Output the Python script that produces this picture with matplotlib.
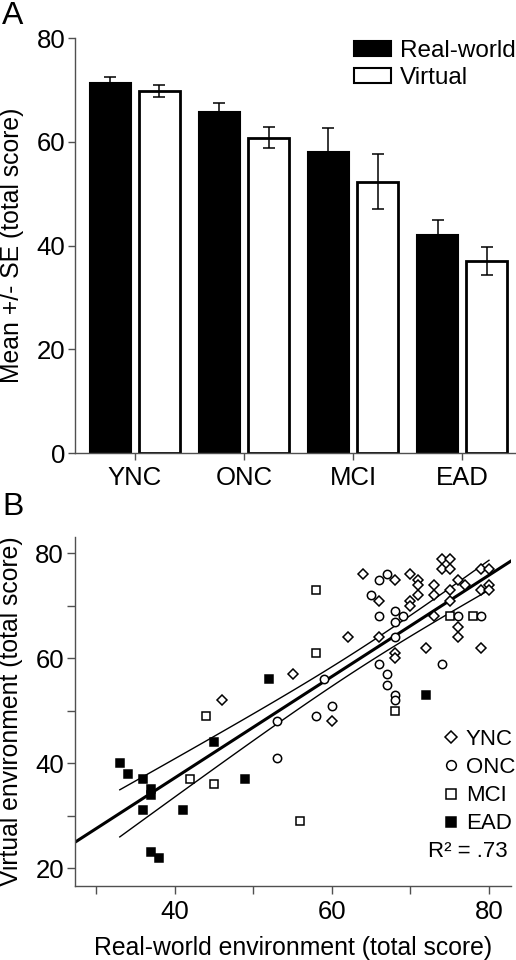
import numpy as np
import matplotlib
matplotlib.use("Agg")
import matplotlib.pyplot as plt
from matplotlib.lines import Line2D
from matplotlib.patches import Patch
from matplotlib.ticker import MultipleLocator

plt.rcParams['font.family'] = ['Liberation Sans', 'DejaVu Sans']

# ---- Panel A data ----
groups = ["YNC", "ONC", "MCI", "EAD"]
real_mean = [71.3, 65.8, 58.1, 42.0]
real_se = [1.2, 1.6, 4.6, 3.0]
virt_mean = [69.8, 60.8, 52.3, 37.0]
virt_se = [1.2, 2.1, 5.3, 2.7]

# ---- Panel B data (real-world x, virtual y) ----
ync_x = [64, 66, 68, 70, 71, 71, 71, 70, 70, 73, 73, 74, 75, 74, 75, 76, 77, 75, 75,
         73, 76, 76, 72, 79, 79, 80, 79, 80, 80, 66, 68, 68, 62, 55, 46, 60]
ync_y = [76, 71, 75, 76, 75, 74, 72, 71, 70, 74, 72, 79, 79, 77, 77, 75, 74, 73, 71,
         68, 66, 64, 62, 62, 77, 77, 73, 74, 73, 64, 61, 60, 64, 57, 52, 48]
onc_x = [66, 67, 65, 66, 68, 69, 68, 68, 66, 67, 67, 68, 68, 74, 76, 79, 59, 60, 58, 53, 53]
onc_y = [75, 76, 72, 68, 69, 68, 67, 64, 59, 57, 55, 53, 52, 59, 68, 68, 56, 51, 49, 48, 41]
mci_x = [58, 58, 44, 42, 45, 56, 68, 75, 78]
mci_y = [73, 61, 49, 37, 36, 29, 50, 68, 68]
ead_x = [33, 34, 36, 37, 37, 36, 37, 38, 41, 45, 49, 52, 72]
ead_y = [40, 38, 37, 35, 34, 31, 23, 22, 31, 44, 37, 56, 53]
r2_text = "R² = .73"

fig = plt.figure(figsize=(5.16, 9.6), dpi=100)
W, H = 516, 960

def ax_rect(l, t, r, b):
    return [l / W, 1 - b / H, (r - l) / W, (b - t) / H]

SPINE = '#505050'
FS_TICK = 18.5
FS_LAB = 17.8

# ---------------- Panel A ----------------
axA = fig.add_axes(ax_rect(75, 38, 516, 453))
x = np.arange(len(groups))
off, bw = 0.225, 0.376
axA.bar(x - off, real_mean, bw, color='black', edgecolor='black', linewidth=1.5, zorder=2)
axA.bar(x + off, virt_mean, bw, color='white', edgecolor='black', linewidth=2.0, zorder=2)
axA.errorbar(x - off, real_mean, yerr=real_se, fmt='none', ecolor='black',
             elinewidth=1.1, capsize=4.2, capthick=1.1, zorder=3)
axA.errorbar(x + off, virt_mean, yerr=virt_se, fmt='none', ecolor='black',
             elinewidth=1.1, capsize=4.2, capthick=1.1, zorder=3)
axA.set_xlim(-0.55, 3.495)
axA.set_ylim(0, 80)
axA.set_yticks([0, 20, 40, 60, 80])
axA.set_xticks(x)
axA.set_xticklabels(groups)
for s in ['top', 'right']:
    axA.spines[s].set_visible(False)
for s in ['left', 'bottom']:
    axA.spines[s].set_color(SPINE)
    axA.spines[s].set_linewidth(1.0)
axA.tick_params(axis='both', direction='out', length=5, width=1, color=SPINE,
                labelsize=FS_TICK, pad=2)
axA.tick_params(axis='x', pad=4)
axA.set_ylabel("Mean +/- SE (total score)", fontsize=FS_LAB)
axA.yaxis.set_label_coords(-0.143, 0.5)
axA.yaxis.label.set_verticalalignment('center')
legA = axA.legend(handles=[Patch(facecolor='black', edgecolor='black', linewidth=1.5),
                           Patch(facecolor='white', edgecolor='black', linewidth=1.5)],
                  labels=["Real-world", "Virtual"], loc='upper left',
                  bbox_to_anchor=(0.632, 0.995), frameon=False, fontsize=17.5,
                  handlelength=1.55, handleheight=0.6, handletextpad=0.35,
                  labelspacing=0.2, borderpad=0, borderaxespad=0)
fig.text(2 / W, 1 - 1 / H, "A", fontsize=23, ha='left', va='top')

# ---------------- Panel B ----------------
axB = fig.add_axes(ax_rect(75, 536.7, 511, 886))
xlo, xhi = 27.3, 82.8
axB.set_xlim(xlo, xhi)
axB.set_ylim(16.6, 83.2)

all_x = np.array(ync_x + onc_x + mci_x + ead_x, dtype=float)
all_y = np.array(ync_y + onc_y + mci_y + ead_y, dtype=float)
slope, intercept = np.polyfit(all_x, all_y, 1)
xx = np.linspace(xlo, xhi, 100)
axB.plot(xx, intercept + slope * xx, color='black', lw=2.2, zorder=2)
n = len(all_x)
resid = all_y - (intercept + slope * all_x)
s = np.sqrt(np.sum(resid ** 2) / (n - 2))
sxx = np.sum((all_x - all_x.mean()) ** 2)
tval = 1.991
xc = np.linspace(all_x.min(), all_x.max(), 100)
half = tval * s * np.sqrt(1 / n + (xc - all_x.mean()) ** 2 / sxx)
yc = intercept + slope * xc
axB.plot(xc, yc + half, color='black', lw=1.0, zorder=2)
axB.plot(xc, yc - half, color='black', lw=1.0, zorder=2)

mk = dict(linestyle='none', markeredgecolor='black', markeredgewidth=1.1, zorder=3)
axB.plot(ync_x, ync_y, marker='D', markersize=4.8, markerfacecolor='white', **mk)
axB.plot(onc_x, onc_y, marker='o', markersize=6.0, markerfacecolor='white', **mk)
axB.plot(mci_x, mci_y, marker='s', markersize=5.8, markerfacecolor='white', **mk)
axB.plot(ead_x, ead_y, marker='s', markersize=5.8, markerfacecolor='black', **mk)

axB.xaxis.set_major_locator(MultipleLocator(20))
axB.xaxis.set_minor_locator(MultipleLocator(10))
axB.yaxis.set_major_locator(MultipleLocator(20))
axB.yaxis.set_minor_locator(MultipleLocator(10))
for s_ in ['top', 'right']:
    axB.spines[s_].set_visible(False)
for s_ in ['left', 'bottom']:
    axB.spines[s_].set_color(SPINE)
    axB.spines[s_].set_linewidth(1.0)
axB.tick_params(axis='both', which='both', direction='out', length=6, width=1,
                color=SPINE, labelsize=FS_TICK, pad=2)
axB.tick_params(axis='x', which='both', pad=4)
axB.set_xlabel("Real-world environment (total score)", fontsize=FS_LAB)
axB.xaxis.set_label_coords(0.5, -0.178)
axB.xaxis.label.set_verticalalignment('center')
axB.set_ylabel("Virtual environment (total score)", fontsize=FS_LAB)
axB.yaxis.set_label_coords(-0.147, 0.5)
axB.yaxis.label.set_verticalalignment('center')

handles = [Line2D([], [], marker='D', markersize=6.5, markerfacecolor='white', **mk),
           Line2D([], [], marker='o', markersize=7.0, markerfacecolor='white', **mk),
           Line2D([], [], marker='s', markersize=7.0, markerfacecolor='white', **mk),
           Line2D([], [], marker='s', markersize=7.0, markerfacecolor='black', **mk)]
axB.legend(handles=handles, labels=groups, loc='upper left',
           bbox_to_anchor=(0.845, 0.449), frameon=False, fontsize=16,
           handlelength=0.7, handletextpad=0.3, labelspacing=0.32,
           borderpad=0, borderaxespad=0)
axB.text(0.993, 0.098, r2_text, transform=axB.transAxes, ha='right', va='center',
         fontsize=16)
fig.text(2 / W, 1 - 492 / H, "B", fontsize=23, ha='left', va='top')

fig.savefig("out.png", dpi=100)
